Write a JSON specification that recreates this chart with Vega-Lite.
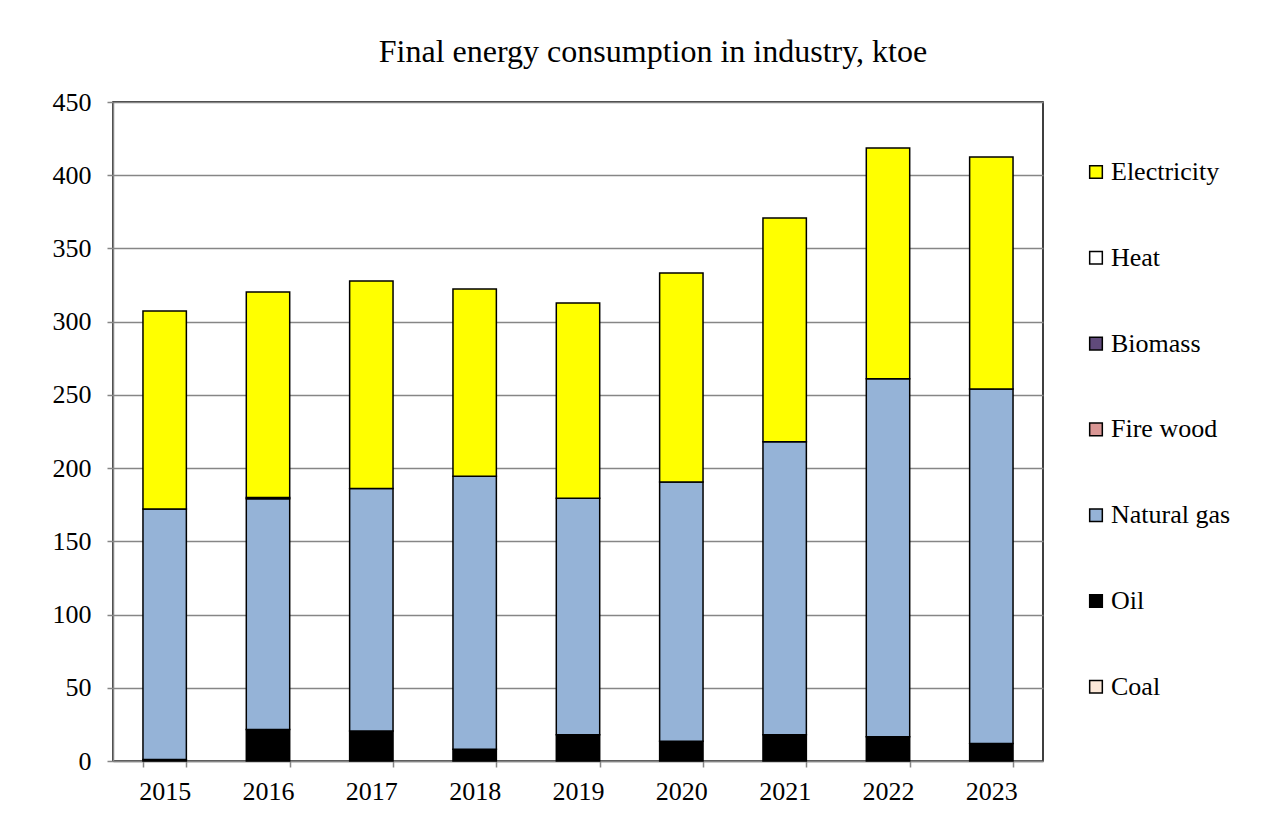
{
  "$schema": "https://vega.github.io/schema/vega-lite/v6.json",
  "autosize": "none",
  "width": 930,
  "height": 659,
  "padding": {"left": 113, "top": 102, "right": 224, "bottom": 66},
  "background": "white",
  "title": {
    "text": "Final energy consumption in industry, ktoe",
    "font": "Liberation Serif",
    "fontSize": 32,
    "fontWeight": "normal",
    "color": "black",
    "anchor": "middle",
    "dx": 75,
    "offset": 20
  },
  "data": {
    "values": [
      {"year": "2015", "source": "Oil", "value": 1},
      {"year": "2015", "source": "Natural gas", "value": 171},
      {"year": "2015", "source": "Electricity", "value": 135.3},
      {"year": "2016", "source": "Oil", "value": 21.5},
      {"year": "2016", "source": "Natural gas", "value": 157.5},
      {"year": "2016", "source": "Biomass", "value": 1},
      {"year": "2016", "source": "Electricity", "value": 140.3},
      {"year": "2017", "source": "Oil", "value": 20.5},
      {"year": "2017", "source": "Natural gas", "value": 165.5},
      {"year": "2017", "source": "Electricity", "value": 141.8},
      {"year": "2018", "source": "Oil", "value": 8},
      {"year": "2018", "source": "Natural gas", "value": 186.5},
      {"year": "2018", "source": "Electricity", "value": 127.8},
      {"year": "2019", "source": "Oil", "value": 18},
      {"year": "2019", "source": "Natural gas", "value": 161.5},
      {"year": "2019", "source": "Electricity", "value": 133.3},
      {"year": "2020", "source": "Oil", "value": 13.5},
      {"year": "2020", "source": "Natural gas", "value": 177},
      {"year": "2020", "source": "Electricity", "value": 142.7},
      {"year": "2021", "source": "Oil", "value": 18},
      {"year": "2021", "source": "Natural gas", "value": 200},
      {"year": "2021", "source": "Electricity", "value": 152.8},
      {"year": "2022", "source": "Oil", "value": 16.5},
      {"year": "2022", "source": "Natural gas", "value": 244.5},
      {"year": "2022", "source": "Electricity", "value": 157.6},
      {"year": "2023", "source": "Oil", "value": 12},
      {"year": "2023", "source": "Natural gas", "value": 242},
      {"year": "2023", "source": "Electricity", "value": 158.5}
    ]
  },
  "transform": [
    {"calculate": "indexof(['Coal','Oil','Natural gas','Fire wood','Biomass','Heat','Electricity'], datum.source)", "as": "stackOrder"}
  ],
  "mark": {"type": "bar", "stroke": "black", "strokeWidth": 1.5},
  "encoding": {
    "x": {
      "field": "year",
      "type": "nominal",
      "scale": {"paddingInner": 0.58, "paddingOuter": 0.29},
      "axis": {
        "title": null,
        "labelAngle": 0,
        "labelFont": "Liberation Serif",
        "labelFontSize": 26,
        "labelColor": "black",
        "labelPadding": 11,
        "tickBand": "extent",
        "tickSize": 6,
        "tickColor": "#868686",
        "tickWidth": 1.5,
        "domainColor": "#868686",
        "domainWidth": 1.5,
        "grid": false
      }
    },
    "y": {
      "field": "value",
      "type": "quantitative",
      "aggregate": "sum",
      "stack": "zero",
      "scale": {"domain": [0, 450], "nice": false},
      "axis": {
        "title": null,
        "values": [0, 50, 100, 150, 200, 250, 300, 350, 400, 450],
        "labelFont": "Liberation Serif",
        "labelFontSize": 26,
        "labelColor": "black",
        "labelPadding": 16,
        "tickSize": 6,
        "tickColor": "#868686",
        "tickWidth": 1.5,
        "domainColor": "#868686",
        "domainWidth": 1.5,
        "grid": true,
        "gridColor": "#868686",
        "gridWidth": 1.5
      }
    },
    "color": {
      "field": "source",
      "type": "nominal",
      "scale": {
        "domain": ["Electricity", "Heat", "Biomass", "Fire wood", "Natural gas", "Oil", "Coal"],
        "range": ["#FFFF00", "#FFFFFF", "#604A7B", "#D99694", "#95B3D7", "#000000", "#FDE9D9"]
      },
      "legend": {
        "title": null,
        "orient": "none",
        "legendX": 970,
        "legendY": 57,
        "symbolType": "square",
        "symbolSize": 160,
        "symbolStrokeColor": "black",
        "symbolStrokeWidth": 1.5,
        "symbolOpacity": 1,
        "labelFont": "Liberation Serif",
        "labelFontSize": 26,
        "labelColor": "black",
        "labelOffset": 2,
        "rowPadding": 59.8
      }
    },
    "order": {"field": "stackOrder", "type": "quantitative", "sort": "ascending"}
  },
  "config": {
    "view": {"stroke": "black", "strokeWidth": 1.5}
  }
}
